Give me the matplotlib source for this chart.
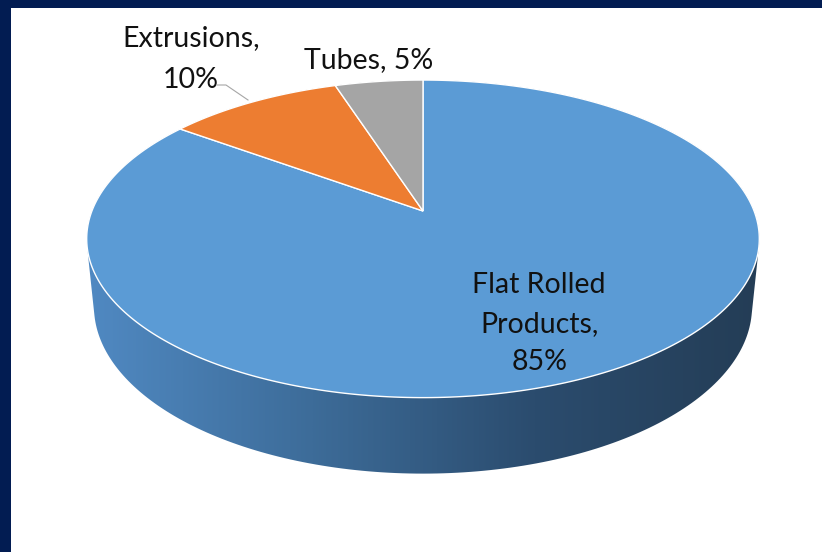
import numpy as np
import matplotlib.pyplot as plt
from matplotlib.patches import Polygon, Rectangle
from matplotlib.colors import LinearSegmentedColormap

categories = ["Flat Rolled Products", "Extrusions", "Tubes"]
shares = [85, 10, 5]
label_texts = ["Flat Rolled\nProducts,\n85%", "Extrusions,\n10%", "Tubes, 5%"]
top_colors = ["#5B9BD5", "#ED7D31", "#A5A5A5"]

# 3d view of the pie (pixel space)
CX, CY = 423, 211
F, DIST = 1672.0, 5.05
PHI = np.radians(27.7)
THICK = 0.233
NAVY = "#021C52"


def project(theta, r=1.0, depth=0.0):
    X = r * np.cos(theta)
    Z = -r * np.sin(theta)
    s, c = np.sin(PHI), np.cos(PHI)
    d = DIST + depth * s - Z * c
    return CX + F * X / d, CY + F * (depth * c + Z * s) / d


def hull(pts):
    pts = sorted(set(map(tuple, np.round(pts, 3))))

    def cross(o, a, b):
        return (a[0] - o[0]) * (b[1] - o[1]) - (a[1] - o[1]) * (b[0] - o[0])

    lower, upper = [], []
    for p in pts:
        while len(lower) >= 2 and cross(lower[-2], lower[-1], p) <= 0:
            lower.pop()
        lower.append(p)
    for p in reversed(pts):
        while len(upper) >= 2 and cross(upper[-2], upper[-1], p) <= 0:
            upper.pop()
        upper.append(p)
    return np.array(lower[:-1] + upper[:-1])


fig = plt.figure(figsize=(8.22, 5.52), dpi=100)
fig.patch.set_facecolor("white")
ax = fig.add_axes([0, 0, 1, 1])
ax.set_xlim(0, 822)
ax.set_ylim(552, 0)
ax.axis("off")

# side of the cylinder, shaded left to right
th = np.linspace(0, 2 * np.pi, 361)
tx, ty = project(th)
bx, by = project(th, depth=THICK)
side = hull(np.column_stack([np.r_[tx, bx], np.r_[ty, by]]))
side_patch = Polygon(side, closed=True, facecolor="none", edgecolor="none")
ax.add_patch(side_patch)
side_cmap = LinearSegmentedColormap.from_list("side", ["#5089C2", "#3D6C99", "#2B4C6E", "#243D56"])
grad = np.tile(np.linspace(0, 1, 400), (10, 1))
im = ax.imshow(grad, cmap=side_cmap, aspect="auto", zorder=1,
               extent=[side[:, 0].min(), side[:, 0].max(), side[:, 1].max(), side[:, 1].min()])
im.set_clip_path(side_patch)

# top faces, clockwise from 12 o'clock
start = np.pi / 2
total = sum(shares)
mids = []
for val, col in zip(shares, top_colors):
    sweep = 2 * np.pi * val / total
    a = np.linspace(start, start - sweep, max(int(val * 4), 8))
    ax_, ay_ = project(a)
    pts = np.column_stack([np.r_[CX, ax_], np.r_[CY, ay_]])
    ax.add_patch(Polygon(pts, closed=True, facecolor=col, edgecolor="white", lw=1, zorder=2))
    mids.append(start - sweep / 2)
    start -= sweep

font = ["Lato", "DejaVu Sans"]
lx, ly = project(mids[0], r=0.7)
ax.text(lx - 2, ly + 5, label_texts[0], ha="center", va="center", fontsize=20.5,
        family=font, color="#111111", linespacing=1.6, zorder=3)
ax.text(191, 59, label_texts[1], ha="center", va="center", fontsize=20.5,
        family=font, color="#111111", linespacing=1.75, zorder=3)
ax.text(369, 60, label_texts[2], ha="center", va="center", fontsize=20.5,
        family=font, color="#111111", zorder=3)
ax.plot([217, 226, 248], [85, 85, 100], color="#A6A6A6", lw=0.8, zorder=3)

# dark frame on top and left
ax.add_patch(Rectangle((0, 0), 822, 8, facecolor=NAVY, edgecolor="none", zorder=5))
ax.add_patch(Rectangle((0, 0), 11, 552, facecolor=NAVY, edgecolor="none", zorder=5))

fig.savefig("out.png", dpi=100, facecolor="white")
